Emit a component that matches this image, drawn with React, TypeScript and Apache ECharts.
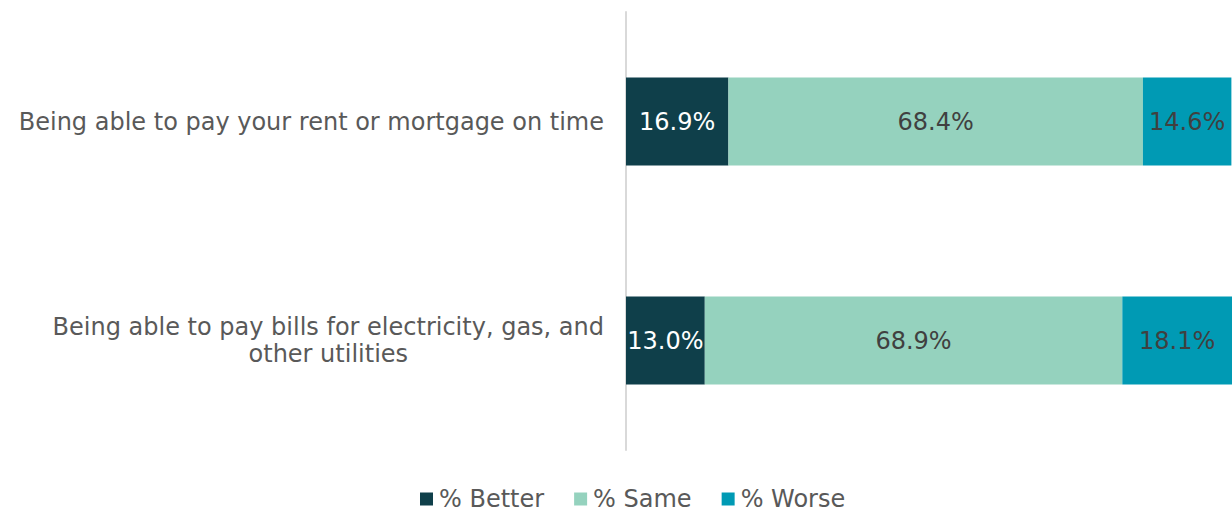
import React, { useEffect, useRef } from "react";
import * as echarts from "echarts";

const categories = [
  "Being able to pay your rent or mortgage on time",
  "Being able to pay bills for electricity, gas, and\nother utilities",
];
const betterValues = [16.9, 13.0];
const sameValues = [68.4, 68.9];
const worseValues = [14.6, 18.1];
const seriesNames = ["% Better", "% Same", "% Worse"];

export default function App() {
  const ref = useRef<HTMLDivElement>(null);
  useEffect(() => {
    if (!ref.current) return;
    const chart = echarts.init(ref.current, undefined, { renderer: "svg" });
    const font = "DejaVu Sans, Verdana, sans-serif";
    const fs = 24;
    const mk = (name: string, data: number[], color: string, labelColor: string) => ({
      name,
      type: "bar",
      stack: "total",
      data,
      barWidth: 88,
      itemStyle: { color },
      label: {
        show: true,
        position: "inside",
        color: labelColor,
        fontFamily: font,
        fontSize: fs,
        formatter: (p: any) => p.value.toFixed(1) + "%",
      },
    });
    chart.setOption({
      animation: false,
      grid: { left: 626, right: 0, top: 12, bottom: 64, containLabel: false },
      legend: {
        data: seriesNames,
        top: 486,
        left: 420,
        padding: 0,
        itemWidth: 13,
        itemHeight: 13,
        itemGap: 30,
        icon: "rect",
        textStyle: { color: "#595959", fontFamily: font, fontSize: fs, lineHeight: 26, padding: [0, 0, 0, 1] },
      },
      xAxis: {
        type: "value",
        min: 0,
        max: 100,
        show: false,
      },
      yAxis: {
        type: "category",
        data: categories,
        inverse: true,
        axisLine: { show: true, lineStyle: { color: "#d9d9d9", width: 2 } },
        axisTick: { show: false },
        axisLabel: {
          margin: 22,
          color: "#595959",
          fontFamily: font,
          fontSize: fs,
          lineHeight: 27,
          formatter: (v: string) =>
            v
              .split("\n")
              .map((l) => "{c|" + l + "}")
              .join("\n"),
          rich: {
            c: { align: "center", color: "#595959", fontFamily: font, fontSize: fs, lineHeight: 27 },
          },
        },
      },
      series: [
        mk(seriesNames[0], betterValues, "#0f3f4a", "#ffffff"),
        mk(seriesNames[1], sameValues, "#95d2be", "#404040"),
        mk(seriesNames[2], worseValues, "#009ab4", "#404040"),
      ],
    });
    return () => chart.dispose();
  }, []);
  return (
    <div
      ref={ref}
      style={{ position: "fixed", left: 0, top: 0, width: 1232, height: 514, background: "#fff" }}
    />
  );
}
